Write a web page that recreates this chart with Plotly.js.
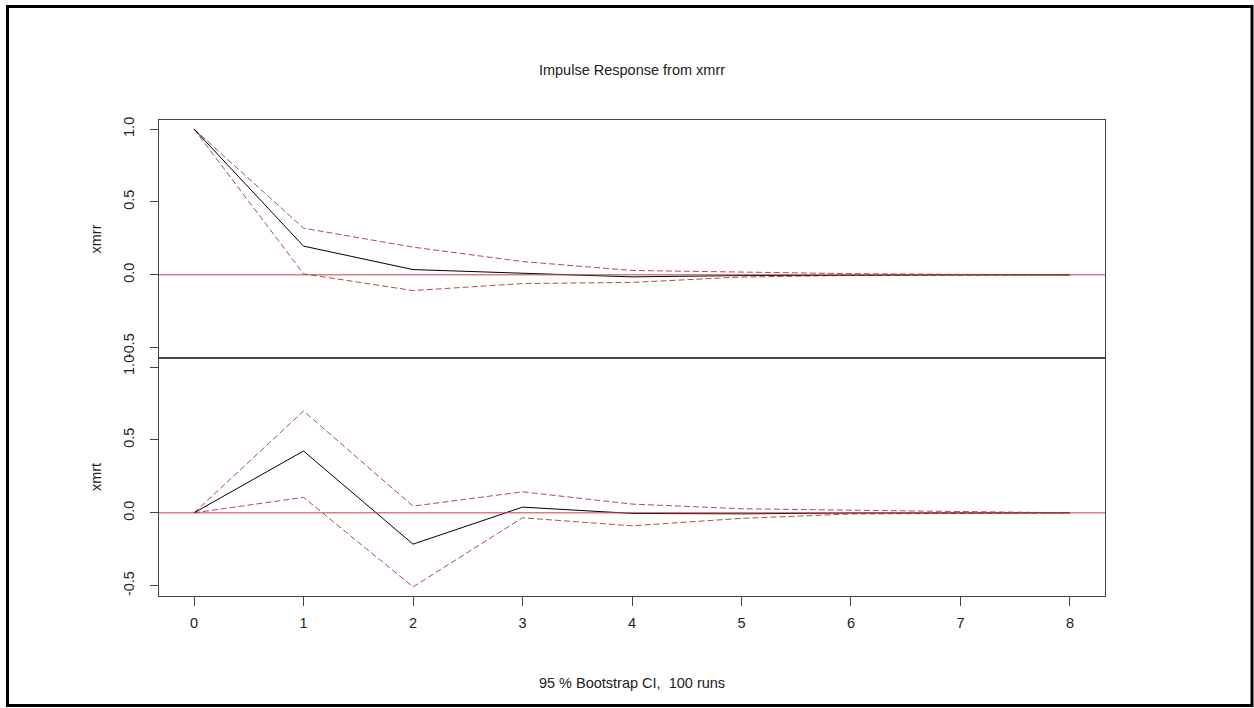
<!DOCTYPE html>
<html>
<head>
<meta charset="utf-8">
<script src="https://cdn.plot.ly/plotly-3.0.1.min.js"></script>
<style>
  html, body { margin: 0; padding: 0; background: #ffffff; }
  #chart { width: 1254px; height: 708px; }
</style>
</head>
<body>
<div id="chart"></div>
<script>
// ---- data ----
const horizon = [0, 1, 2, 3, 4, 5, 6, 7, 8];
const xticks = ["0", "1", "2", "3", "4", "5", "6", "7", "8"];
const yticks = [-0.5, 0.0, 0.5, 1.0];
const yticklabels = ["-0.5", "0.0", "0.5", "1.0"];

const xmrrIrf   = [1.0, 0.197, 0.036, 0.011, -0.014, -0.005, 0.000, 0.000, 0.000];
const xmrrUpper = [1.0, 0.320, 0.190, 0.091, 0.030, 0.018, 0.008, 0.003, 0.000];
const xmrrLower = [1.0, 0.007, -0.108, -0.060, -0.052, -0.015, -0.004, -0.001, 0.000];

const xmrtIrf   = [0.0, 0.424, -0.215, 0.039, -0.004, -0.007, -0.001, 0.000, 0.000];
const xmrtUpper = [0.0, 0.698, 0.046, 0.144, 0.060, 0.028, 0.018, 0.007, 0.000];
const xmrtLower = [0.0, 0.106, -0.508, -0.034, -0.089, -0.038, -0.008, -0.002, 0.000];

const panelNames = ["xmrr", "xmrt"];
const mainTitle = "Impulse Response from xmrr";
const xLabel = "95 % Bootstrap CI,  100 runs";

// ---- styling ----
const W = 1254, H = 708;
const M = { l: 159, r: 149, t: 120, b: 112 };
const PW = W - M.l - M.r, PH = H - M.t - M.b;
const font = "Liberation Sans, Arial, Helvetica, sans-serif";
const txt = "#222222";
const axisCol = "#444444";
const ciCol = "rgb(180,72,82)";
const zeroCol = "rgb(200,60,70)";
const yRange = [-0.5705, 1.062];

const px2x = p => (p - M.l) / PW;
const px2y = p => (H - M.b - p) / PH;

function line(x, y, xa, ya, color, dash) {
  return { x: x, y: y, xaxis: xa, yaxis: ya, type: "scatter", mode: "lines",
           line: { color: color, width: 1, dash: dash }, hoverinfo: "skip", showlegend: false };
}

const traces = [
  line(horizon, xmrrUpper, "x2", "y", ciCol, "6px,3px"),
  line(horizon, xmrrLower, "x2", "y", ciCol, "6px,3px"),
  line(horizon, xmrrIrf,   "x2", "y", "#000000", "solid"),
  line(horizon, xmrtUpper, "x", "y2", ciCol, "6px,3px"),
  line(horizon, xmrtLower, "x", "y2", ciCol, "6px,3px"),
  line(horizon, xmrtIrf,   "x", "y2", "#000000", "solid")
];

const yAxisBase = {
  range: yRange, tickvals: yticks, ticktext: yticklabels, tickangle: -90,
  ticks: "outside", ticklen: 8, tickcolor: axisCol, tickwidth: 1,
  showline: true, linecolor: axisCol, linewidth: 1, mirror: true,
  showgrid: false, zeroline: false, fixedrange: true,
  tickfont: { family: font, size: 14.5, color: txt },
  ticklabelstandoff: 10
};
const xAxisBase = {
  range: [-0.32, 8.32], tickvals: horizon, ticktext: xticks,
  showline: true, linecolor: axisCol, linewidth: 1, mirror: true,
  showgrid: false, zeroline: false, fixedrange: true,
  tickfont: { family: font, size: 14.5, color: txt }
};

const layout = {
  width: W, height: H, margin: M,
  paper_bgcolor: "#ffffff", plot_bgcolor: "#ffffff",
  showlegend: false,
  title: { text: mainTitle, font: { family: font, size: 14.5, color: txt },
           xref: "paper", x: 0.5, xanchor: "center",
           yref: "container", y: 1 - 70 / H, yanchor: "middle" },
  xaxis: Object.assign({}, xAxisBase, { anchor: "y2", ticks: "outside", ticklen: 9,
           tickcolor: axisCol, ticklabelstandoff: 5,
           title: { text: xLabel, font: { family: font, size: 14.5, color: txt }, standoff: 47 } }),
  xaxis2: Object.assign({}, xAxisBase, { anchor: "y", matches: "x", showticklabels: false, ticks: "" }),
  yaxis: Object.assign({}, yAxisBase, { domain: [0.5, 1], anchor: "x2",
           title: { text: panelNames[0], font: { family: font, size: 14.5, color: txt }, standoff: 16 } }),
  yaxis2: Object.assign({}, yAxisBase, { domain: [0, 0.5], anchor: "x",
           title: { text: panelNames[1], font: { family: font, size: 14.5, color: txt }, standoff: 16 } }),
  shapes: [
    { type: "line", xref: "x2 domain", yref: "y", x0: 0, x1: 1, y0: 0, y1: 0,
      line: { color: zeroCol, width: 1 }, layer: "above" },
    { type: "line", xref: "x domain", yref: "y2", x0: 0, x1: 1, y0: 0, y1: 0,
      line: { color: zeroCol, width: 1 }, layer: "above" },
    { type: "rect", xref: "paper", yref: "paper",
      x0: px2x(7.5), x1: px2x(1252), y0: px2y(705.5), y1: px2y(6.5),
      line: { color: "#000000", width: 3 }, fillcolor: "rgba(0,0,0,0)", layer: "above" }
  ]
};

Plotly.newPlot("chart", traces, layout, { displayModeBar: false, staticPlot: true });
</script>
</body>
</html>
